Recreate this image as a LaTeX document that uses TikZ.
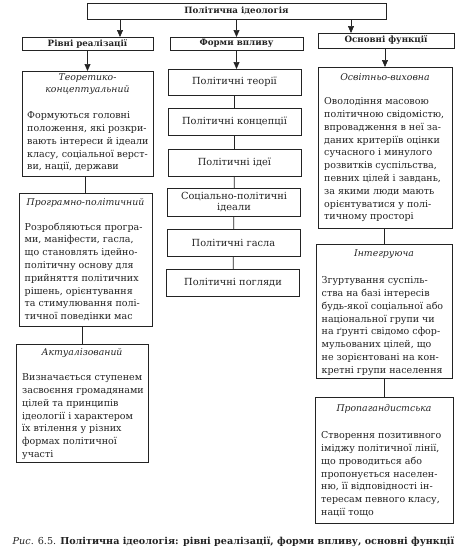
\documentclass[tikz,border=0pt]{standalone}
\usepackage{fontspec}
\setmainfont{DejaVu Serif}
\usetikzlibrary{arrows.meta,calc}
\definecolor{ink}{RGB}{35,35,35}
\tikzset{
  box/.style={draw=ink, line width=0.7pt, inner sep=0pt, outer sep=0pt, text=ink},
  hdr/.style={box, font=\bfseries\fontsize{8.7}{10}\selectfont},
  mid/.style={box, minimum width=133pt, align=center, font=\fontsize{9.8}{12}\selectfont},
  ttl/.style={anchor=north, inner sep=0pt, align=center, text=ink, font=\itshape\fontsize{9.3}{12}\selectfont},
  body/.style={anchor=north west, inner sep=0pt, align=left, text=ink, font=\fontsize{9.5}{12.8}\selectfont},
  arr/.style={draw=ink, line width=0.7pt, -{Triangle[width=6pt,length=7pt]}},
  lnk/.style={draw=ink, line width=0.7pt}
}
\begin{document}
\begin{tikzpicture}[x=1pt,y=-1pt]
\useasboundingbox (0,0) rectangle (470,555);
% top
\node[hdr, minimum width=299pt, minimum height=16pt] (top) at (236.5,11) {Політична ідеологія};
% level 2
\node[hdr, minimum width=131pt, minimum height=13pt] (rivni) at (87.5,43.5) {Рівні реалізації};
\node[hdr, minimum width=133pt, minimum height=13pt] (forms) at (236.5,43.5) {Форми впливу};
\node[hdr, minimum width=136pt, minimum height=15pt] (osn) at (386,40.5) {Основні функції};
\coordinate (a1) at ($(top.south)+(-116.5,0)$);
\coordinate (a3) at ($(top.south)+(114.5,0)$);
\draw[arr] (a1) -- (a1 |- rivni.north);
\draw[arr] (top.south) -- (forms.north);
\draw[arr] (a3) -- (a3 |- osn.north);
% left column
\node[box, minimum width=131pt, minimum height=105pt] (l1) at (87.5,123.5) {};
\node[box, minimum width=133pt, minimum height=133pt] (l2) at (85.5,259.5) {};
\node[box, minimum width=132pt, minimum height=118pt] (l3) at (82,403) {};
\draw[arr] (rivni.south) -- (l1.north);
\draw[lnk] (l1.south -| l2.north) -- (l2.north);
\draw[lnk] (l2.south -| l3.north) -- (l3.north);
\node[ttl] (l1t) at ($(l1.north)+(0,3)$) {Теоретико-\\концептуальний};
\node[body] (l1b) at ($(l1.north west)+(5,40.5)$) {Формуються головні\\положення, які розкри-\\вають інтереси й ідеали\\класу, соціальної верст-\\ви, нації, держави};
\node[ttl] (l2t) at ($(l2.north)+(0,5.5)$) {Програмно-політичний};
\node[body] (l2b) at ($(l2.north west)+(5.5,29.5)$) {Розробляються програ-\\ми, маніфести, гасла,\\що становлять ідейно-\\політичну основу для\\прийняття політичних\\рішень, орієнтування\\та стимулювання полі-\\тичної поведінки мас};
\node[ttl] (l3t) at ($(l3.north)+(0,4.5)$) {Актуалізований};
\node[body] (l3b) at ($(l3.north west)+(6,29.5)$) {Визначається ступенем\\засвоєння громадянами\\цілей та принципів\\ідеології і характером\\їх втілення у різних\\формах політичної\\участі};
% middle column
\node[mid, minimum height=26pt] (m1) at (234.5,82) {Політичні теорії};
\node[mid, minimum height=27pt] (m2) at (234.5,121.5) {Політичні концепції};
\node[mid, minimum height=27pt] (m3) at (234.5,162.5) {Політичні ідеї};
\node[mid, minimum height=28pt, font=\fontsize{9.8}{11.5}\selectfont] (m4) at (234,202) {Соціально-політичні\\ідеали};
\node[mid, minimum height=27pt] (m5) at (233.5,242.5) {Політичні гасла};
\node[mid, minimum height=27pt] (m6) at (233,282.5) {Політичні погляди};
\draw[arr] (forms.south) -- (forms.south |- m1.north);
\draw[lnk] (m1) -- (m2);
\draw[lnk] (m2) -- (m3);
\draw[lnk] (m3) -- (m4);
\draw[lnk] (m4) -- (m5);
\draw[lnk] (m5) -- (m6);
% right column
\node[box, minimum width=134pt, minimum height=161pt] (r1) at (385,147.5) {};
\node[box, minimum width=136pt, minimum height=134pt] (r2) at (384,311) {};
\node[box, minimum width=138pt, minimum height=126pt] (r3) at (384,460) {};
\draw[arr] (osn.south -| r1.north) -- (r1.north);
\draw[lnk] (r1.south -| r2.north) -- (r2.north);
\draw[lnk] (r2.south -| r3.north) -- (r3.north);
\node[ttl] (r1t) at ($(r1.north)+(0,6.5)$) {Освітньо-виховна};
\node[body] (r1b) at ($(r1.north west)+(6,30.5)$) {Оволодіння масовою\\політичною свідомістю,\\впровадження в неї за-\\даних критеріїв оцінки\\сучасного і минулого\\розвитків суспільства,\\певних цілей і завдань,\\за якими люди мають\\орієнтуватися у полі-\\тичному просторі};
\node[ttl] (r2t) at ($(r2.north)+(0,5.5)$) {Інтегруюча};
\node[body] (r2b) at ($(r2.north west)+(5.5,32.5)$) {Згуртування суспіль-\\ства на базі інтересів\\будь-якої соціальної або\\національної групи чи\\на ґрунті свідомо сфор-\\мульованих цілей, що\\не зорієнтовані на кон-\\кретні групи населення};
\node[ttl] (r3t) at ($(r3.north)+(0,7.5)$) {Пропагандистська};
\node[body] (r3b) at ($(r3.north west)+(6,34.5)$) {Створення позитивного\\іміджу політичної лінії,\\що проводиться або\\пропонується населен-\\ню, її відповідності ін-\\тересам певного класу,\\нації тощо};
% caption
\node[inner sep=0pt, text=ink, font=\fontsize{9.6}{11}\selectfont] (cap) at (233.5,542) {\textit{Рис.} 6.5. \textbf{Політична ідеологія: рівні реалізації, форми впливу, основні функції}};
\end{tikzpicture}
\end{document}
